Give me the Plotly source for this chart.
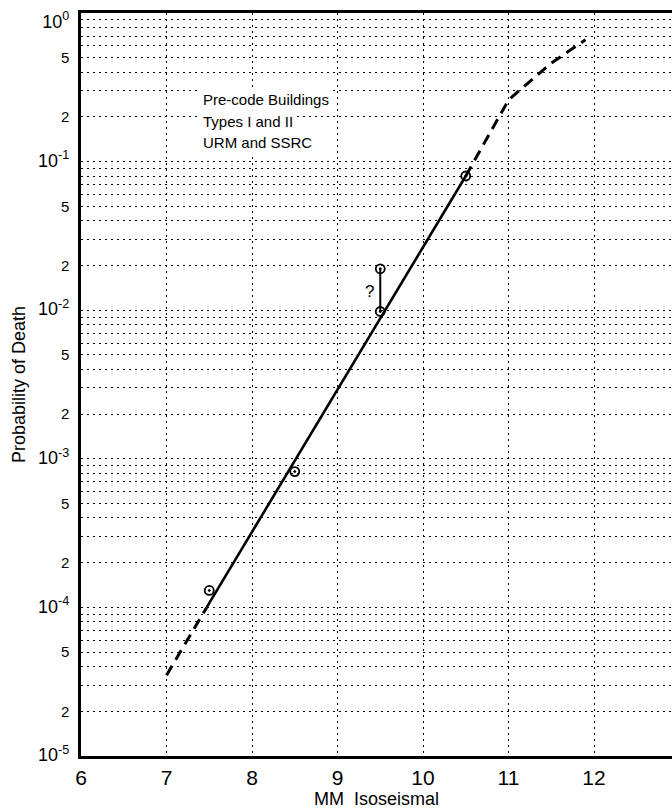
import plotly.graph_objects as go

# ---- data ----
obs_x = [7.5, 8.5, 9.5, 9.5, 10.5]
obs_y = [1.3e-4, 8.2e-4, 0.0098, 0.019, 0.08]

low_dash_x = [7.0, 7.47]
low_dash_y = [3.5e-5, 1.0e-4]

fit_x = [7.47, 10.5]
fit_y = [1.0e-4, 0.08]

up_dash_x = [10.5, 11.0, 11.5, 11.9]
up_dash_y = [0.08, 0.26, 0.46, 0.66]

range_x = [9.5, 9.5]
range_y = [0.0098, 0.019]

y_tick_vals = [1, 0.5, 0.2, 0.1, 0.05, 0.02, 0.01, 0.005, 0.002,
               0.001, 5e-4, 2e-4, 1e-4, 5e-5, 2e-5, 1e-5]
y_tick_text = ["10<sup>0</sup>", "5", "2", "10<sup>-1</sup>", "5", "2",
               "10<sup>-2</sup>", "5", "2", "10<sup>-3</sup>", "5", "2",
               "10<sup>-4</sup>", "5", "2", "10<sup>-5</sup>"]
x_tick_vals = [6, 7, 8, 9, 10, 11, 12]

note_lines = ["Pre-code Buildings", "Types I and II", "URM and SSRC"]

FONT = "Liberation Sans, Arial, Helvetica, sans-serif"
DOT = "2px,4px"

y_text = []
for i, t in enumerate(y_tick_text):
    if t.startswith("10"):
        s = "<span style='font-size:18px'>" + t + "</span>"
        if i == 0:
            # top label sits just below the frame in the reference
            s = " <br>" + s
        y_text.append(s)
    else:
        y_text.append(t)

fig = go.Figure()

fig.add_trace(go.Scatter(x=low_dash_x, y=low_dash_y, mode="lines",
                         line=dict(color="black", width=3, dash="11px,7px"),
                         showlegend=False, hoverinfo="skip"))
fig.add_trace(go.Scatter(x=fit_x, y=fit_y, mode="lines",
                         line=dict(color="black", width=2.6),
                         showlegend=False, hoverinfo="skip"))
fig.add_trace(go.Scatter(x=up_dash_x, y=up_dash_y, mode="lines",
                         line=dict(color="black", width=3, dash="11px,7px"),
                         showlegend=False, hoverinfo="skip"))
fig.add_trace(go.Scatter(x=range_x, y=range_y, mode="lines",
                         line=dict(color="black", width=2),
                         showlegend=False, hoverinfo="skip"))
fig.add_trace(go.Scatter(x=obs_x, y=obs_y, mode="markers",
                         marker=dict(symbol="circle-open-dot", size=9, color="black",
                                     line=dict(color="black", width=1.8)),
                         showlegend=False))

fig.add_annotation(x=9.37, y=-1.875, xref="x", yref="y", text="?",
                   showarrow=False, font=dict(size=17, color="black", family=FONT))

for i, line in enumerate(note_lines):
    fig.add_annotation(x=0.201, y=0.883 - i * 0.0285, xref="paper", yref="paper",
                       xanchor="left", yanchor="middle", text=line, showarrow=False,
                       bgcolor="white", borderpad=2,
                       font=dict(size=15, color="black", family=FONT))

fig.update_xaxes(
    range=[6, 12.912], tickmode="array", tickvals=x_tick_vals,
    showgrid=True, gridcolor="black", gridwidth=1.4, griddash=DOT,
    showline=True, linecolor="black", linewidth=2.5, mirror=True,
    ticks="outside", ticklen=1, tickcolor="rgba(0,0,0,0)",
    tickfont=dict(size=21, color="black", family=FONT),
    title=dict(text="MM  Isoseismal", font=dict(size=18, color="black", family=FONT),
               standoff=5),
    zeroline=False, automargin=False,
)
fig.update_yaxes(
    type="log", range=[-5, 0], tickmode="array", tickvals=y_tick_vals, ticktext=y_text,
    showgrid=True, gridcolor="black", gridwidth=1.4, griddash=DOT,
    minor=dict(dtick="D1", showgrid=True, gridcolor="black", gridwidth=1.4, griddash=DOT),
    showline=True, linecolor="black", linewidth=2.5, mirror=False,
    ticks="outside", ticklen=6, tickcolor="rgba(0,0,0,0)",
    tickfont=dict(size=15, color="black", family=FONT),
    ticklabeloverflow="allow",
    title=dict(text="Probability of Death", font=dict(size=18, color="black", family=FONT),
               standoff=8),
    zeroline=False, automargin=False,
)

fig.update_layout(
    width=672, height=810,
    margin=dict(l=81, r=0, t=13, b=54),
    paper_bgcolor="white", plot_bgcolor="white",
    font=dict(family=FONT, color="black"),
    showlegend=False,
)

# remove the default 8px page margin so the figure fills the window exactly
fig.write_html("out.html", config={"displayModeBar": False},
               post_script="document.body.style.margin='0';")
